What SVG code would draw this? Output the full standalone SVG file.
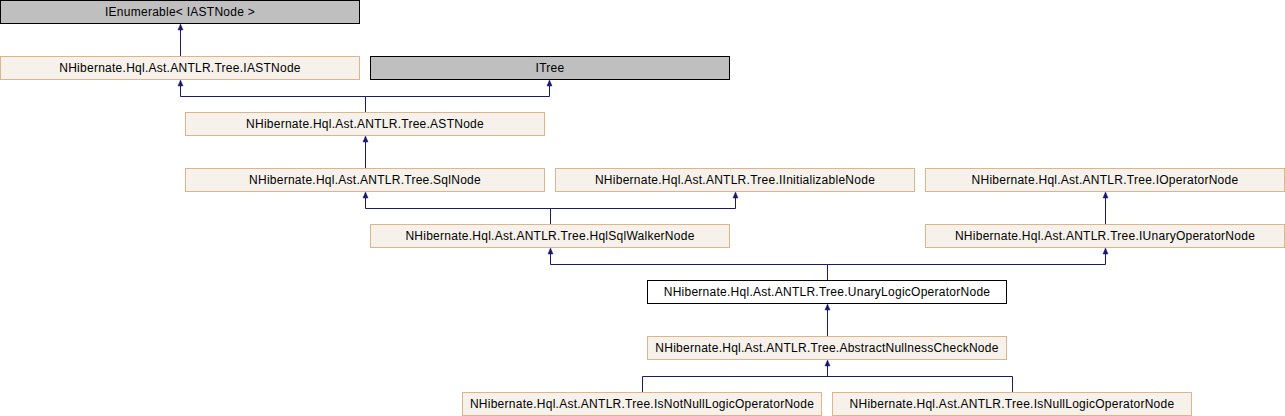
<svg xmlns="http://www.w3.org/2000/svg" width="1285" height="416" viewBox="0 0 1285 416">
<style>
.bg{fill:#ffffff}
.n rect{fill:#f6f1ea;stroke:#deb58b;stroke-width:1}
.n.ext rect{fill:#bfbfbf;stroke:#000000}
.n.cur rect{fill:#ffffff;stroke:#000000}
.n text{font-family:"Liberation Sans",Arial,sans-serif;font-size:12px;letter-spacing:0.26px;fill:#000000;text-anchor:middle}
.e path{fill:none;stroke:#191970;stroke-width:1}
.e polygon{fill:#191970;stroke:#191970;stroke-width:0.5}
</style>
<rect class="bg" x="0" y="0" width="1285" height="416"/>
<g id="connectors" class="e">
<path d="M180.5,56 V29"/>
<polygon points="180.5,24 183,30 178,30"/>
<path d="M365.5,112 V96.5 H180.5 V85 M365.5,96.5 H549.5 V85"/>
<polygon points="180.5,80 183,86 178,86"/>
<polygon points="549.5,80 552,86 547,86"/>
<path d="M365.5,168 V141"/>
<polygon points="365.5,136 368,142 363,142"/>
<path d="M550.5,224 V208.5 H365.5 V197 M550.5,208.5 H735.5 V197"/>
<polygon points="365.5,192 368,198 363,198"/>
<polygon points="735.5,192 738,198 733,198"/>
<path d="M1105.5,224 V197"/>
<polygon points="1105.5,192 1108,198 1103,198"/>
<path d="M827.5,280 V264.5 H550.5 V253 M827.5,264.5 H1105.5 V253"/>
<polygon points="550.5,248 553,254 548,254"/>
<polygon points="1105.5,248 1108,254 1103,254"/>
<path d="M827.5,336 V309"/>
<polygon points="827.5,304 830,310 825,310"/>
<path d="M642.5,392 V376.5 H1012.5 V392 M827.5,376.5 V365"/>
<polygon points="827.5,360 830,366 825,366"/>
</g>
<g id="node-IEnumerable" class="n ext"><rect x="0.5" y="0.5" width="359" height="23"/><text x="180" y="16">IEnumerable&lt; IASTNode &gt;</text></g>
<g id="node-IASTNode" class="n"><rect x="0.5" y="56.5" width="359" height="23"/><text x="180" y="72">NHibernate.Hql.Ast.ANTLR.Tree.IASTNode</text></g>
<g id="node-ITree" class="n ext"><rect x="370.5" y="56.5" width="359" height="23"/><text x="550" y="72">ITree</text></g>
<g id="node-ASTNode" class="n"><rect x="185.5" y="112.5" width="359" height="23"/><text x="365" y="128">NHibernate.Hql.Ast.ANTLR.Tree.ASTNode</text></g>
<g id="node-SqlNode" class="n"><rect x="185.5" y="168.5" width="359" height="23"/><text x="365" y="184">NHibernate.Hql.Ast.ANTLR.Tree.SqlNode</text></g>
<g id="node-IInitializableNode" class="n"><rect x="555.5" y="168.5" width="359" height="23"/><text x="735" y="184">NHibernate.Hql.Ast.ANTLR.Tree.IInitializableNode</text></g>
<g id="node-IOperatorNode" class="n"><rect x="925.5" y="168.5" width="359" height="23"/><text x="1105" y="184">NHibernate.Hql.Ast.ANTLR.Tree.IOperatorNode</text></g>
<g id="node-HqlSqlWalkerNode" class="n"><rect x="370.5" y="224.5" width="359" height="23"/><text x="550" y="240">NHibernate.Hql.Ast.ANTLR.Tree.HqlSqlWalkerNode</text></g>
<g id="node-IUnaryOperatorNode" class="n"><rect x="925.5" y="224.5" width="359" height="23"/><text x="1105" y="240">NHibernate.Hql.Ast.ANTLR.Tree.IUnaryOperatorNode</text></g>
<g id="node-UnaryLogicOperatorNode" class="n cur"><rect x="647.5" y="280.5" width="359" height="23"/><text x="827" y="296">NHibernate.Hql.Ast.ANTLR.Tree.UnaryLogicOperatorNode</text></g>
<g id="node-AbstractNullnessCheckNode" class="n"><rect x="647.5" y="336.5" width="359" height="23"/><text x="827" y="352">NHibernate.Hql.Ast.ANTLR.Tree.AbstractNullnessCheckNode</text></g>
<g id="node-IsNotNullLogicOperatorNode" class="n"><rect x="462.5" y="392.5" width="359" height="23"/><text x="642" y="408">NHibernate.Hql.Ast.ANTLR.Tree.IsNotNullLogicOperatorNode</text></g>
<g id="node-IsNullLogicOperatorNode" class="n"><rect x="832.5" y="392.5" width="359" height="23"/><text x="1012" y="408">NHibernate.Hql.Ast.ANTLR.Tree.IsNullLogicOperatorNode</text></g>
</svg>
